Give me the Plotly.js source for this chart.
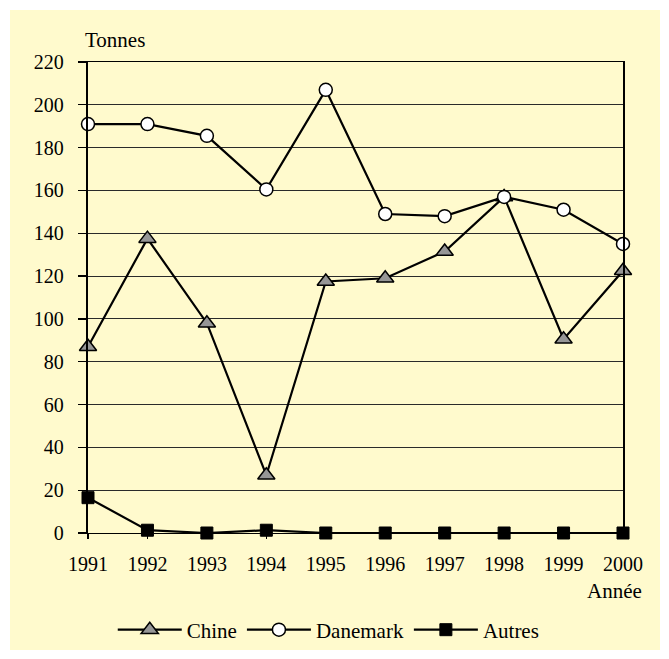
<!DOCTYPE html>
<html>
<head>
<meta charset="utf-8">
<script src="https://cdn.plot.ly/plotly-3.0.1.min.js"></script>
<style>
  html, body { margin: 0; padding: 0; background: #ffffff; }
  #chart { position: absolute; left: 10px; top: 10px; width: 650px; height: 640px; }
</style>
</head>
<body>
<div id="chart"></div>
<script>
// Imports in tonnes per year
const years = ['1991', '1992', '1993', '1994', '1995', '1996', '1997', '1998', '1999', '2000'];
const chine = [87, 137.5, 98, 27, 117.5, 119, 131.5, 157, 90.5, 122.5];
const danemark = [191, 191, 185.5, 160.5, 207, 149, 148, 157, 151, 135];
const autres = [16.5, 1.3, 0, 1.3, 0, 0, 0, 0, 0, 0];
const yTicks = [0, 20, 40, 60, 80, 100, 120, 140, 160, 180, 200, 220];

const FONT = 'Liberation Serif';
const lineStyle = { color: '#000000', width: 2.2 };

const traces = [
  {
    x: years, y: chine, name: 'Chine', type: 'scatter', mode: 'lines+markers',
    line: lineStyle, cliponaxis: false,
    marker: { symbol: 'triangle-up', size: 15, color: '#969696', line: { color: '#000000', width: 1.5 } }
  },
  {
    x: years, y: danemark, name: 'Danemark', type: 'scatter', mode: 'lines+markers',
    line: lineStyle, cliponaxis: false,
    marker: { symbol: 'circle', size: 13, color: '#ffffff', line: { color: '#000000', width: 1.5 } }
  },
  {
    x: years, y: autres, name: 'Autres', type: 'scatter', mode: 'lines+markers',
    line: lineStyle, cliponaxis: false,
    marker: { symbol: 'square', size: 12, color: '#000000', line: { color: '#000000', width: 1 } }
  }
];

const layout = {
  width: 650, height: 640,
  margin: { l: 78, r: 37, t: 52, b: 117, pad: 0, autoexpand: false },
  paper_bgcolor: '#FFFACD',
  plot_bgcolor: '#FFFACD',
  font: { family: FONT, size: 20, color: '#000000' },
  showlegend: true,
  legend: {
    orientation: 'h', x: 0.45, xanchor: 'center', y: -0.206, yanchor: 'middle',
    bgcolor: 'rgba(0,0,0,0)', font: { family: FONT, size: 21 },
    itemwidth: 64, tracegroupgap: 0
  },
  xaxis: {
    type: 'category', range: [0, years.length - 1],
    tickvals: years, ticktext: years,
    showgrid: false, zeroline: false,
    showline: true, linecolor: '#000000', linewidth: 1.2, mirror: true,
    ticks: 'outside', ticklen: 5, tickwidth: 1.2, tickcolor: '#000000',
    ticklabelstandoff: 8,
    tickfont: { family: FONT, size: 20 }
  },
  yaxis: {
    range: [0, 220], tickvals: yTicks, ticktext: yTicks.map(String),
    showgrid: true, gridcolor: '#2a2a2a', gridwidth: 1,
    zeroline: false,
    showline: true, linecolor: '#000000', linewidth: 2.2, mirror: true,
    ticks: 'outside', ticklen: 8, tickwidth: 1.2, tickcolor: '#000000',
    ticklabelstandoff: 10,
    tickfont: { family: FONT, size: 20 }
  },
  annotations: [
    {
      text: 'Tonnes', xref: 'paper', yref: 'paper', x: -0.0093, y: 1.047,
      xanchor: 'left', yanchor: 'middle', showarrow: false,
      font: { family: FONT, size: 21 }
    },
    {
      text: 'Année', xref: 'paper', yref: 'paper', x: 1.039, y: -0.123,
      xanchor: 'right', yanchor: 'middle', showarrow: false,
      font: { family: FONT, size: 21 }
    }
  ]
};

Plotly.newPlot('chart', traces, layout, { displayModeBar: false, staticPlot: true });
</script>
</body>
</html>
